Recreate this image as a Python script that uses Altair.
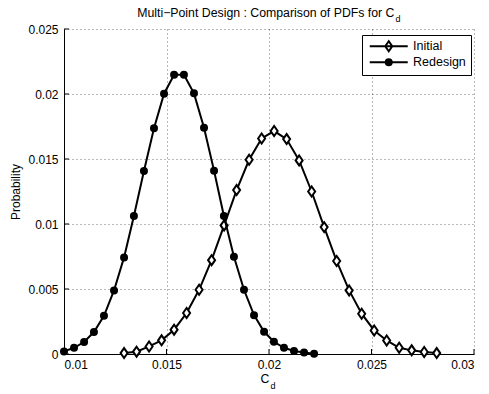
import altair as alt
import pandas as pd

# Drag coefficient samples and estimated probability densities
cd_initial = [0.01293, 0.01354, 0.01415, 0.01476, 0.01537, 0.01598, 0.01659, 0.0172,
              0.01781, 0.01842, 0.01903, 0.01964, 0.02025, 0.02086, 0.02147, 0.02208,
              0.02269, 0.0233, 0.02391, 0.02452, 0.02513, 0.02574, 0.02635, 0.02696,
              0.02757, 0.02818]
pdf_initial = [0.00007, 0.00018, 0.00058, 0.00105, 0.00187, 0.00315, 0.00494, 0.00722,
               0.00989, 0.01261, 0.01494, 0.01658, 0.01715, 0.01653, 0.01489, 0.0125,
               0.00976, 0.00715, 0.00489, 0.0031, 0.00181, 0.00104, 0.00048, 0.00028,
               0.00015, 0.00007]

cd_redesign = [0.0100, 0.01049, 0.01098, 0.01146, 0.01195, 0.01244, 0.01293, 0.01341,
               0.0139, 0.01439, 0.01488, 0.01537, 0.01585, 0.01634, 0.01683, 0.01732,
               0.0178, 0.01829, 0.01878, 0.01927, 0.01976, 0.02024, 0.02073, 0.02122,
               0.02171, 0.0222]
pdf_redesign = [0.0002, 0.00048, 0.00092, 0.00169, 0.00294, 0.00489, 0.00743, 0.01061,
                0.01407, 0.01736, 0.02002, 0.02148, 0.02148, 0.02005, 0.01741, 0.0141,
                0.01062, 0.00748, 0.00494, 0.00299, 0.00171, 0.00094, 0.00048, 0.00023,
                0.00012, 0.00002]

series_names = ["Initial", "Redesign"]
x_ticks = [0.01, 0.015, 0.02, 0.025, 0.03]
y_ticks = [0, 0.005, 0.01, 0.015, 0.02, 0.025]

title_main = "Multi\u2212Point Design : Comparison of PDFs for C"
title_sub = "d"
x_label_main = "C"
x_label_sub = "d"
y_label = "Probability"

FONT = "Liberation Sans"
W, H = 410, 325

df = pd.concat([
    pd.DataFrame({"cd": cd_initial, "pdf": pdf_initial, "series": "Initial"}),
    pd.DataFrame({"cd": cd_redesign, "pdf": pdf_redesign, "series": "Redesign"}),
], ignore_index=True)

x_enc = alt.X("cd:Q",
              scale=alt.Scale(domain=[0.01, 0.03], nice=False, zero=False),
              axis=alt.Axis(values=x_ticks, format="~g", title=None, labelPadding=5))
y_enc = alt.Y("pdf:Q",
              scale=alt.Scale(domain=[0, 0.025], nice=False),
              axis=alt.Axis(values=y_ticks, format="~g", title=y_label,
                            labelPadding=6, titlePadding=5))

base = alt.Chart(df)

# Taller-than-wide diamond marker, like MATLAB's 'd'
diamond_path = "M-0.7,0L0,-1L0.7,0L0,1Z"


def series_layers(name, shape, fill, size):
    sub = base.transform_filter(alt.datum.series == name)
    line = sub.mark_line(color="black", strokeWidth=2).encode(x=x_enc, y=y_enc)
    pts = sub.mark_point(shape=shape, filled=True, fill=fill, stroke="black",
                         strokeWidth=2, size=size, opacity=1).encode(x=x_enc, y=y_enc)
    return [line, pts]


# Legend symbols: a line segment with the series marker in its middle
# (the filled dot is built from two stroked rings)
legend_paths = [
    "M-1,0H8.5M2.875,0L3.75,-1.25L4.625,0L3.75,1.25Z",
    "M-1,0H8.5M3,0A0.75,0.75 0 1,0 4.5,0A0.75,0.75 0 1,0 3,0Z"
    "M3.5,0A0.25,0.25 0 1,0 4,0A0.25,0.25 0 1,0 3.5,0Z",
]
legend_layer = base.mark_point(filled=False, stroke="black", strokeWidth=2,
                               size=64, opacity=0).encode(
    x=x_enc, y=y_enc,
    shape=alt.Shape("series:N",
                    scale=alt.Scale(domain=series_names, range=legend_paths),
                    legend=alt.Legend(
                        title=None, orient="none", legendX=298, legendY=6, padding=5,
                        strokeColor="black", fillColor="white", labelFont=FONT,
                        labelFontSize=12.5, labelColor="black",
                        symbolStrokeColor="black", symbolFillColor="white",
                        symbolStrokeWidth=2, symbolOpacity=1, symbolSize=64,
                        symbolOffset=0.5, labelOffset=33, rowPadding=-1)),
)

# Inward tick marks on the left and bottom axes
ytick = alt.Chart(pd.DataFrame({"pdf": y_ticks})).mark_rule(
    color="black", strokeWidth=1).encode(y=y_enc, x=alt.value(0), x2=alt.value(5))
xtick = alt.Chart(pd.DataFrame({"cd": x_ticks})).mark_rule(
    color="black", strokeWidth=1).encode(x=x_enc, y=alt.value(H), y2=alt.value(H - 5))

one = pd.DataFrame({"k": [0]})


def label(text, x, y, size, align):
    return alt.Chart(one).mark_text(
        text=text, font=FONT, fontSize=size, color="black", align=align,
        baseline="alphabetic").encode(x=alt.value(x), y=alt.value(y))


texts = [
    label(title_main, 330.5, -12, 12.3, "right"),
    label(title_sub, 331.5, -7.5, 9, "left"),
    label(x_label_main, 205.5, 354, 12.3, "right"),
    label(x_label_sub, 206.5, 360, 9, "left"),
]

layers = ([ytick, xtick]
          + series_layers("Initial", diamond_path, "white", 100)
          + series_layers("Redesign", "circle", "black", 36)
          + [legend_layer] + texts)

chart = alt.layer(*layers).properties(
    width=W, height=H,
    autosize="none",
    padding={"left": 64, "top": 29, "right": 15, "bottom": 40},
    background="white",
).configure_axis(
    labelFont=FONT, labelFontSize=12, labelColor="black",
    titleFont=FONT, titleFontSize=12, titleFontWeight="normal", titleColor="black",
    domainColor="black", domainWidth=1, ticks=False,
    gridColor="black", gridDash=[1, 3], gridOpacity=0.55, gridWidth=1,
).configure_view(stroke=None)

chart.save("out.html", embed_options={"renderer": "svg", "actions": False})
